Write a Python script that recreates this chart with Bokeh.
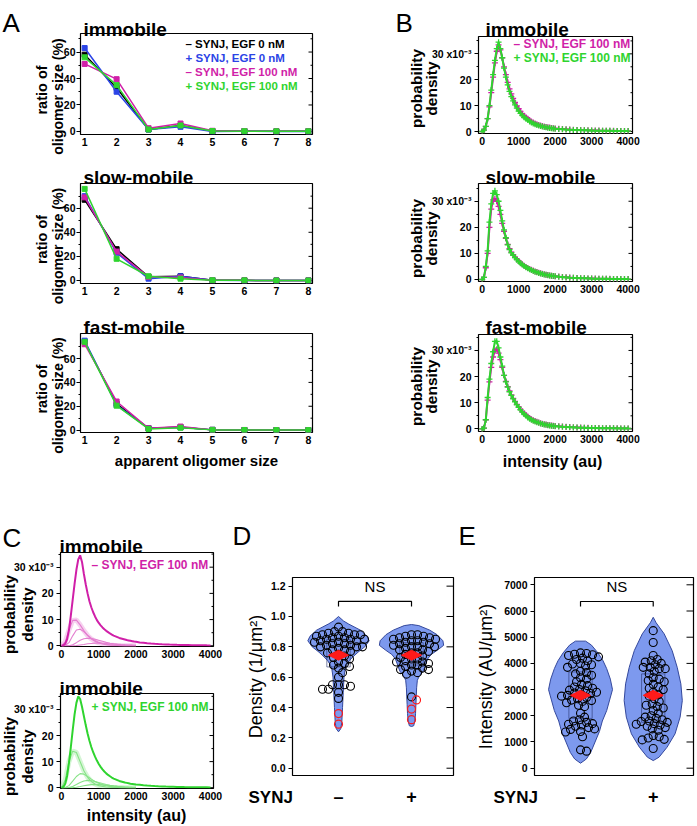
import numpy as np
from bokeh.plotting import figure
from bokeh.models import Range1d, FixedTicker, Label, PrintfTickFormatter, GridBox
from bokeh.layouts import row, column
from bokeh.embed import file_html
from bokeh.resources import INLINE

FONT = "Liberation Sans"
BLACK = "#000000"
BLUE = "#2b44e6"
MAG = "#d01fa8"
GRN = "#2fd42f"
MAG_L = "#e47fd0"
GRN_L = "#86e386"
V_FILL = "#7d99ee"
V_LINE = "#34489c"
RED = "#ff1a1a"

# ---------------- Panel A data (ratio of oligomer size, %) ----------------
oligomer_size = [1, 2, 3, 4, 5, 6, 7, 8]
imm_m0 = [58, 33, 1.5, 4.5, 0.3, 0.3, 0.1, 0.1]
imm_p0 = [63, 30, 1.5, 3.5, 0.0, 0.1, 0.0, 0.0]
imm_m100 = [51, 39.5, 2.5, 6.0, 0.5, 0.3, 0.1, 0.1]
imm_p100 = [56, 35, 1.5, 4.5, 0.3, 0.2, 0.1, 0.1]
slow_m0 = [67, 26, 3.0, 3.5, 0.2, 0.1, 0.0, 0.0]
slow_p0 = [70, 23, 1.5, 3.5, 0.2, 0.0, 0.0, 0.0]
slow_m100 = [69, 24, 3.0, 2.5, 0.2, 0.1, 0.0, 0.0]
slow_p100 = [76, 18, 3.5, 1.5, 0.2, 0.1, 0.0, 0.0]
fast_m0 = [74, 22, 1.5, 2.5, 0.2, 0.1, 0.0, 0.0]
fast_p0 = [75, 21, 1.5, 2.5, 0.2, 0.0, 0.0, 0.0]
fast_m100 = [72, 24, 1.5, 3.0, 0.2, 0.1, 0.0, 0.0]
fast_p100 = [74, 20.5, 1.0, 2.0, 0.2, 0.1, 0.0, 0.0]
legend_A = ["\u2013 SYNJ, EGF 0 nM", "+ SYNJ, EGF 0 nM", "\u2013 SYNJ, EGF 100 nM", "+ SYNJ, EGF 100 nM"]

# ---------------- Panel B / C data (probability density, x10^-3) ----------------
intensity = list(range(0, 2001, 50)) + list(range(2100, 4001, 100))
b_imm_mag = [0, 0.5, 2, 5, 9.5, 15, 21, 26.5, 31, 33.5, 31.5, 28.5, 25, 22, 19, 16.5, 14.5, 12.8, 11.2, 9.9,
             8.8, 7.8, 6.9, 6.1, 5.5, 4.9, 4.4, 3.9, 3.5, 3.1, 2.8, 2.5, 2.3, 2.1, 1.9, 1.7, 1.6, 1.5, 1.4, 1.3, 1.2,
             1.05, 0.95, 0.85, 0.75, 0.68, 0.62, 0.56, 0.5, 0.45, 0.41, 0.38, 0.35, 0.32, 0.3, 0.28, 0.26, 0.24, 0.22, 0.21, 0.2]
b_imm_grn = [0, 0.5, 2, 5, 10, 16, 22, 27.5, 32, 34.5, 32, 28.5, 24.5, 21, 18, 15.5, 13.5, 11.8, 10.3, 9.0,
             7.9, 7.0, 6.2, 5.5, 4.9, 4.4, 3.9, 3.5, 3.1, 2.8, 2.5, 2.3, 2.1, 1.9, 1.7, 1.6, 1.45, 1.35, 1.25, 1.15, 1.05,
             0.95, 0.85, 0.75, 0.68, 0.6, 0.55, 0.5, 0.45, 0.4, 0.37, 0.34, 0.31, 0.29, 0.27, 0.25, 0.23, 0.21, 0.2, 0.19, 0.18]
b_slow_mag = [0, 0.8, 4.5, 10, 20, 27, 30.5, 31, 30, 28, 25, 21.5, 18.5, 15.8, 13.5, 11.8, 10.5, 9.5, 8.6, 7.8,
              7.1, 6.4, 5.8, 5.3, 4.8, 4.4, 4.0, 3.7, 3.4, 3.1, 2.9, 2.6, 2.4, 2.2, 2.0, 1.85, 1.7, 1.55, 1.45, 1.35, 1.25,
              1.1, 0.95, 0.85, 0.75, 0.66, 0.58, 0.52, 0.47, 0.42, 0.38, 0.35, 0.32, 0.29, 0.26, 0.24, 0.22, 0.2, 0.19, 0.18, 0.17]
b_slow_grn = [0, 0.8, 5, 11, 22, 29, 33, 34, 32.5, 30, 26.5, 22.5, 19, 16, 13.3, 11.5, 10.2, 9.3, 8.4, 7.6,
              6.9, 6.2, 5.7, 5.2, 4.7, 4.3, 3.9, 3.6, 3.3, 3.0, 2.8, 2.5, 2.3, 2.1, 1.9, 1.8, 1.65, 1.5, 1.4, 1.3, 1.2,
              1.05, 0.9, 0.8, 0.7, 0.62, 0.55, 0.5, 0.45, 0.4, 0.36, 0.33, 0.3, 0.27, 0.25, 0.23, 0.21, 0.19, 0.18, 0.17, 0.16]
b_fast_mag = [0, 0.3, 3.5, 11, 18, 23.5, 27.5, 30, 30.5, 29, 26.5, 23.5, 20.5, 18.2, 16.2, 14.5, 13, 11.7, 10.5, 9.4,
              8.4, 7.5, 6.7, 6.0, 5.3, 4.7, 4.2, 3.7, 3.3, 3.0, 2.7, 2.4, 2.2, 2.0, 1.8, 1.65, 1.5, 1.4, 1.3, 1.2, 1.1,
              0.98, 0.87, 0.78, 0.7, 0.62, 0.55, 0.5, 0.45, 0.41, 0.37, 0.34, 0.31, 0.28, 0.26, 0.24, 0.22, 0.2, 0.19, 0.18, 0.17]
b_fast_grn = [0, 0.3, 3.5, 12, 19, 25, 29.5, 33.5, 33.5, 31, 27.5, 24, 20.5, 18, 16, 14.2, 12.8, 11.5, 10.3, 9.2,
              8.2, 7.3, 6.4, 5.7, 5.0, 4.4, 3.9, 3.5, 3.1, 2.8, 2.5, 2.3, 2.1, 1.9, 1.7, 1.55, 1.4, 1.3, 1.2, 1.1, 1.0,
              0.9, 0.8, 0.72, 0.64, 0.57, 0.51, 0.46, 0.42, 0.38, 0.35, 0.32, 0.29, 0.27, 0.25, 0.23, 0.21, 0.19, 0.18, 0.17, 0.16]
legend_B = ["\u2013 SYNJ, EGF 100 nM", "+ SYNJ, EGF 100 nM"]

c_mag_total = [0, 0.2, 0.8, 2.5, 6, 11.5, 17.5, 23.5, 29, 33, 34.5, 32, 27.5, 23.5, 20, 17, 14.7, 12.8, 11.2, 9.8,
               8.7, 7.8, 7.0, 6.3, 5.7, 5.2, 4.7, 4.3, 3.9, 3.6, 3.3, 3.0, 2.8, 2.6, 2.4, 2.2, 2.05, 1.9, 1.75, 1.6, 1.5,
               1.3, 1.15, 1.0, 0.88, 0.77, 0.68, 0.6, 0.53, 0.47, 0.42, 0.37, 0.33, 0.3, 0.27, 0.24, 0.22, 0.2, 0.18, 0.16, 0.15]
c_grn_total = [0, 0.3, 1.5, 4.5, 9.5, 15.5, 22, 28, 32.5, 35, 34, 31, 27.5, 24, 20.8, 18, 15.6, 13.6, 11.9, 10.4,
               9.1, 8.0, 7.0, 6.2, 5.5, 4.9, 4.4, 3.9, 3.5, 3.2, 2.9, 2.6, 2.4, 2.2, 2.0, 1.85, 1.7, 1.55, 1.45, 1.35, 1.25,
               1.1, 0.95, 0.83, 0.72, 0.63, 0.55, 0.49, 0.43, 0.38, 0.34, 0.3, 0.27, 0.24, 0.22, 0.2, 0.18, 0.16, 0.15, 0.14, 0.13]
comp_x = list(range(0, 2001, 100))
c_mag_comp1 = [0, 1.5, 6, 9.7, 9.8, 8.0, 5.8, 3.9, 2.6, 1.7, 1.1, 0.7, 0.45, 0.3, 0.2, 0.12, 0.08, 0.05, 0.03, 0.02, 0.01]
c_mag_comp2 = [0, 0.1, 1.2, 3.8, 6.0, 6.3, 5.4, 4.1, 2.9, 2.0, 1.3, 0.85, 0.55, 0.35, 0.22, 0.14, 0.09, 0.06, 0.04, 0.02, 0.01]
c_mag_comp3 = [0, 0, 0.05, 0.4, 1.2, 2.1, 2.7, 2.9, 2.8, 2.5, 2.1, 1.7, 1.3, 1.0, 0.75, 0.55, 0.4, 0.3, 0.2, 0.15, 0.1]
c_mag_comp4 = [0, 0, 0, 0.02, 0.1, 0.3, 0.5, 0.75, 0.9, 1.0, 1.0, 0.95, 0.85, 0.75, 0.65, 0.55, 0.45, 0.37, 0.3, 0.24, 0.19]
c_grn_comp1 = [0, 3, 10, 14, 13.5, 10, 6.5, 4, 2.4, 1.4, 0.8, 0.5, 0.3, 0.18, 0.1, 0.06, 0.04, 0.02, 0.01, 0.01, 0]
c_grn_comp2 = [0, 0.1, 0.8, 2.5, 4.3, 5.4, 5.2, 4.3, 3.3, 2.4, 1.7, 1.1, 0.75, 0.5, 0.32, 0.2, 0.13, 0.08, 0.05, 0.03, 0.02]
c_grn_comp3 = [0, 0, 0.1, 0.5, 1.2, 2.0, 2.6, 2.8, 2.7, 2.4, 2.0, 1.6, 1.25, 0.95, 0.7, 0.5, 0.35, 0.25, 0.17, 0.12, 0.08]
c_grn_comp4 = [0, 0, 0, 0.05, 0.2, 0.45, 0.75, 1.0, 1.2, 1.25, 1.2, 1.1, 0.95, 0.8, 0.65, 0.52, 0.4, 0.3, 0.23, 0.17, 0.12]

# ---------------- Panel D data (density, 1/um^2) ----------------
d_minus = [0.93, 0.90, 0.90, 0.89, 0.89, 0.88, 0.88, 0.88, 0.87, 0.87, 0.86, 0.86, 0.85, 0.85, 0.85, 0.84, 0.84,
           0.83, 0.83, 0.82, 0.82, 0.81, 0.81, 0.80, 0.80, 0.80, 0.79, 0.78, 0.78, 0.77, 0.76, 0.75, 0.74, 0.73,
           0.72, 0.70, 0.69, 0.68, 0.67, 0.66, 0.63, 0.60, 0.55, 0.55, 0.55, 0.54, 0.52, 0.52, 0.50, 0.46]
d_minus_out = [0.36, 0.29]
d_plus = [0.88, 0.88, 0.87, 0.87, 0.86, 0.86, 0.85, 0.85, 0.84, 0.84, 0.83, 0.83, 0.82, 0.82, 0.81, 0.80, 0.80,
          0.80, 0.79, 0.78, 0.78, 0.77, 0.76, 0.76, 0.75, 0.74, 0.73, 0.72, 0.72, 0.71, 0.70, 0.70, 0.69, 0.68,
          0.68, 0.67, 0.66, 0.65, 0.65, 0.64, 0.63, 0.62, 0.47]
d_plus_out = [0.45, 0.39, 0.32]
d_means = [0.745, 0.745]
d_vio_minus_y = [0.24, 0.26, 0.30, 0.35, 0.40, 0.45, 0.50, 0.55, 0.60, 0.65, 0.68, 0.71, 0.74, 0.77, 0.80, 0.84, 0.87, 0.91, 0.95, 0.97, 1.00]
d_vio_minus_w = [0.0, 0.03, 0.045, 0.05, 0.055, 0.06, 0.065, 0.07, 0.075, 0.09, 0.11, 0.15, 0.21, 0.28, 0.36, 0.42, 0.39, 0.30, 0.14, 0.07, 0.0]
d_vio_plus_y = [0.275, 0.28, 0.31, 0.36, 0.42, 0.47, 0.53, 0.58, 0.61, 0.64, 0.68, 0.72, 0.75, 0.78, 0.81, 0.84, 0.88, 0.91, 0.94, 0.947]
d_vio_plus_w = [0.0, 0.03, 0.045, 0.055, 0.06, 0.065, 0.07, 0.08, 0.11, 0.16, 0.19, 0.22, 0.27, 0.36, 0.44, 0.43, 0.35, 0.25, 0.10, 0.0]

# ---------------- Panel E data (intensity, AU/um^2) ----------------
e_minus = [4400, 4380, 4350, 4330, 4300, 4250, 4200, 4150, 4100, 4000, 3980, 3950, 3900, 3850, 3700, 3650, 3600,
           3550, 3450, 3400, 3300, 3200, 3150, 3100, 3050, 3000, 2980, 2950, 2900, 2870, 2850, 2800, 2780, 2750,
           2700, 2650, 2600, 2580, 2550, 2500, 2400, 2350, 2100, 1950, 1850, 1800, 1750, 1700, 1680, 1650, 1600,
           1550, 1500, 1480, 1400, 1380, 1200, 700, 650]
e_plus = [5250, 4800, 4300, 4150, 4100, 4050, 4000, 3950, 3850, 3850, 3800, 3800, 3700, 3600, 3450, 3400, 3350,
          3300, 3200, 3100, 3050, 3000, 2900, 2800, 2750, 2650, 2550, 2450, 2400, 2350, 2300, 2200, 2100, 2000,
          1950, 1900, 1850, 1800, 1780, 1750, 1700, 1680, 1650, 1600, 1550, 1500, 1450, 1250, 1200, 1150, 1100,
          1080, 750]
e_means = [2780, 2780]
e_vio_minus_y = [190, 350, 600, 1000, 1400, 1800, 2200, 2600, 3000, 3400, 3800, 4100, 4400, 4700, 4850]
e_vio_minus_w = [0.0, 0.08, 0.14, 0.20, 0.26, 0.30, 0.36, 0.40, 0.44, 0.41, 0.36, 0.31, 0.24, 0.15, 0.07]
e_vio_plus_y = [290, 420, 800, 1310, 1950, 2580, 3220, 3850, 4490, 5130, 5550, 5760]
e_vio_plus_w = [0.0, 0.08, 0.19, 0.30, 0.37, 0.40, 0.38, 0.33, 0.26, 0.15, 0.04, 0.0]
group_labels = {1: "\u2013", 2: "+"}


# ---------------- helpers ----------------
def make_fig(w, h, left, right, top, frame_h, xr, yr):
    bottom = h - top - frame_h
    p = figure(width=w, height=h, x_range=Range1d(*xr), y_range=Range1d(*yr),
               output_backend="svg", toolbar_location=None,
               min_border_left=left, min_border_right=right,
               min_border_top=top, min_border_bottom=bottom)
    p.xgrid.visible = False
    p.ygrid.visible = False
    p.outline_line_color = "black"
    p.outline_line_width = 1.2
    p.outline_line_alpha = 1.0
    p.border_fill_color = "white"
    p.background_fill_color = "white"
    return p


def style_axis(ax, ticks, minor=None, size="10.5px", tick_out=4, minor_out=2, standoff=3, bold=True):
    ax.ticker = FixedTicker(ticks=ticks, minor_ticks=minor or [])
    ax.axis_line_color = None
    ax.major_tick_in = 0
    ax.major_tick_out = tick_out
    ax.minor_tick_in = 0
    ax.minor_tick_out = minor_out
    ax.major_tick_line_color = "black"
    ax.minor_tick_line_color = "black"
    ax.major_label_text_font = FONT
    ax.major_label_text_font_style = "bold" if bold else "normal"
    ax.major_label_text_font_size = size
    ax.major_label_text_color = "black"
    ax.major_label_standoff = standoff


def right_ticks(p, xr, frame_w, ticks, minor=None, tlen=4, mlen=2):
    # inward-pointing mirror ticks on the right edge of the frame
    kx = frame_w / (xr[1] - xr[0])
    for tv, ln in ((ticks, tlen), (minor or [], mlen)):
        if len(tv):
            p.segment(x0=[xr[1]] * len(tv), y0=tv, x1=[xr[1] - ln / kx] * len(tv), y1=tv,
                      line_color="black", line_width=1)


def swarm(vals, kx, ky, d=5.5):
    vals = np.asarray(vals, float)
    order = np.argsort(-vals, kind="stable")
    placed = []
    offs = np.zeros(len(vals))
    cands = [0.0]
    for s in np.arange(1.0, 60.0, 1.0):
        cands += [float(s), float(-s)]
    for i in order:
        ypx = vals[i] * ky
        chosen = 0.0
        for c in cands:
            if all((c - px) ** 2 + (ypx - py) ** 2 >= d * d for px, py in placed):
                chosen = c
                break
        placed.append((chosen, ypx))
        offs[i] = chosen / kx
    return offs


# ---------------- overlay for texts outside the plot frames ----------------
W, H = 697, 826
ov = figure(width=W, height=H, x_range=Range1d(0, W), y_range=Range1d(H, 0),
            output_backend="svg", toolbar_location=None,
            x_axis_location=None, y_axis_location=None,
            min_border_left=0, min_border_right=0, min_border_top=0, min_border_bottom=0)
ov.grid.visible = False
ov.outline_line_color = None
ov.background_fill_alpha = 0
ov.border_fill_alpha = 0


def otxt(x, y, s, size, color="black", bold=True, align="left", baseline="middle", angle=0.0):
    ov.add_layout(Label(x=x, y=y, text=s, text_font=FONT, text_font_size=f"{size}px",
                        text_font_style="bold" if bold else "normal",
                        text_color=color, text_align=align, text_baseline=baseline, angle=angle))


# ---------------- Panel A ----------------
A_W, A_L, A_R = 345, 80, 33
A_COLORS = [BLACK, BLUE, MAG, GRN]
a_specs = [
    (158, 33, 101, (-2.3, 74.0), [imm_m0, imm_p0, imm_m100, imm_p100]),
    (150, 25, 100, (-2.5, 80.5), [slow_m0, slow_p0, slow_m100, slow_p100]),
    (170, 25, 99, (-2.0, 81.0), [fast_m0, fast_p0, fast_m100, fast_p100]),
]
A_figs = []
for (h, top, fh, yr, series) in a_specs:
    xr = (0.87, 8.13)
    p = make_fig(A_W, h, A_L, A_R, top, fh, xr, yr)
    style_axis(p.yaxis[0], [0, 20, 40, 60], [10, 30, 50, 70], standoff=1)
    style_axis(p.xaxis[0], oligomer_size, tick_out=0, minor_out=0, standoff=3)
    right_ticks(p, xr, A_W - A_L - A_R, [0, 20, 40, 60], [10, 30, 50, 70])
    for ys, c in zip(series, A_COLORS):
        p.line(oligomer_size, ys, line_color=c, line_width=1.5)
        p.scatter(oligomer_size, ys, marker="square", size=5, color=c)
    A_figs.append(p)

otxt(2, 22, "A", 26, bold=False, baseline="alphabetic")
for title, yb, cr, co in (("immobile", 29, 89.5, 96), ("slow-mobile", 177, 239, 245.5),
                          ("fast-mobile", 327, 388.5, 395)):
    otxt(83, yb, title, 19, baseline="alphabetic")
    otxt(41, cr, "ratio of", 14.5, align="center", angle=np.pi / 2)
    otxt(57, co, "oligomer size (%)", 14.2, align="center", angle=np.pi / 2)
for i, (s, c) in enumerate(zip(legend_A, A_COLORS)):
    otxt(185, 43.3 + 14.2 * i, s, 11.5, color=c)
otxt(196, 460, "apparent oligomer size", 15, align="center", baseline="alphabetic")

# ---------------- Panel B ----------------
B_W, B_L, B_R = 352, 133, 65
b_specs = [
    (158, 36, 97, (-0.77, 36.7), b_imm_mag, b_imm_grn),
    (150, 25, 98, (-0.77, 36.8), b_slow_mag, b_slow_grn),
    (170, 26, 97, (-1.0, 36.1), b_fast_mag, b_fast_grn),
]
B_figs = []
for (h, top, fh, yr, ym, yg) in b_specs:
    xr = (-100, 4120)
    p = make_fig(B_W, h, B_L, B_R, top, fh, xr, yr)
    style_axis(p.yaxis[0], [0, 10, 20, 30], [5, 15, 25, 35])
    p.yaxis[0].major_label_overrides = {30: "30 x10\u207b\u00b3"}
    style_axis(p.xaxis[0], [0, 1000, 2000, 3000, 4000], tick_out=0, minor_out=0, standoff=3)
    right_ticks(p, xr, B_W - B_L - B_R, [0, 10, 20, 30], [5, 15, 25, 35])
    p.line(intensity, ym, line_color=MAG, line_width=2)
    p.scatter(intensity, ym, marker="cross", size=6, line_color=MAG, line_width=1.3)
    p.line(intensity, yg, line_color=GRN, line_width=2)
    p.scatter(intensity, yg, marker="cross", size=6, line_color=GRN, line_width=1.3)
    B_figs.append(p)

otxt(395, 22, "B", 26, bold=False, baseline="alphabetic")
for title, yb, cy in (("immobile", 28.5, 88), ("slow-mobile", 177, 238), ("fast-mobile", 327, 386)):
    otxt(485, yb, title, 19, baseline="alphabetic")
    otxt(416, cy, "probability", 15.5, align="center", angle=np.pi / 2)
    otxt(431, cy, "density", 15.5, align="center", angle=np.pi / 2)
otxt(513, 43.3, legend_B[0], 12, color=MAG)
otxt(513, 57.7, legend_B[1], 12, color=GRN)
otxt(552, 460.5, "intensity (au)", 16, align="center", baseline="alphabetic")

# ---------------- Panel C ----------------
C_W, C_L, C_R = 230, 60, 17
c_specs = [
    (186, 74, 94, (-0.27, 35.6), c_mag_total, [c_mag_comp1, c_mag_comp2, c_mag_comp3, c_mag_comp4], MAG, MAG_L),
    (162, 29, 95, (-0.3, 36.1), c_grn_total, [c_grn_comp1, c_grn_comp2, c_grn_comp3, c_grn_comp4], GRN, GRN_L),
]
C_figs = []
for (h, top, fh, yr, tot, comps, col, col_l) in c_specs:
    xr = (-27, 4080)
    p = make_fig(C_W, h, C_L, C_R, top, fh, xr, yr)
    style_axis(p.yaxis[0], [0, 10, 20, 30], [5, 15, 25, 35])
    p.yaxis[0].major_label_overrides = {30: "30 x10\u207b\u00b3"}
    style_axis(p.xaxis[0], [0, 1000, 2000, 3000, 4000], tick_out=0, minor_out=0, standoff=3)
    right_ticks(p, xr, C_W - C_L - C_R, [0, 10, 20, 30], [5, 15, 25, 35])
    p.line(comp_x, comps[0], line_color=col_l, line_width=5, line_alpha=0.35)
    for cc in comps:
        p.line(comp_x, cc, line_color=col_l, line_width=1.1)
    p.line(intensity, tot, line_color=col, line_width=2)
    C_figs.append(p)

otxt(2, 537, "C", 26, bold=False, baseline="alphabetic")
for yb, cy in ((546, 614), (688, 756)):
    otxt(59, yb, "immobile", 19, baseline="alphabetic")
    otxt(9, cy, "probability", 15.5, align="center", angle=np.pi / 2)
    otxt(27, cy, "density", 15.5, align="center", angle=np.pi / 2)
otxt(91, 564, legend_B[0], 12, color=MAG)
otxt(91, 706, legend_B[1], 12, color=GRN)
otxt(136, 815, "intensity (au)", 16, align="center", baseline="alphabetic")


# ---------------- Panels D and E ----------------
def violin_fig(w, left, right, xr, yr, ticks, fmt, groups, outs, means, vio, ns_y, ns_tick):
    h, top, fh = 348, 99, 198
    p = make_fig(w, h, left, right, top, fh, xr, yr)
    fw = w - left - right
    kx = fw / (xr[1] - xr[0])
    ky = fh / (yr[1] - yr[0])
    style_axis(p.yaxis[0], ticks, None, size="10.5px", tick_out=4, minor_out=0, standoff=3)
    if fmt:
        p.yaxis[0].formatter = PrintfTickFormatter(format=fmt)
    style_axis(p.xaxis[0], [1, 2], None, size="18px", tick_out=0, minor_out=0, standoff=11)
    p.xaxis[0].major_label_overrides = group_labels
    right_ticks(p, xr, fw, ticks, None, tlen=7)
    for gi, (vals, ov_, m, (vy, vw)) in enumerate(zip(groups, outs, means, vio)):
        c = gi + 1
        xs = [c - a for a in vw] + [c + a for a in reversed(vw)]
        ys = list(vy) + list(reversed(vy))
        p.patch(xs, ys, fill_color=V_FILL, line_color=V_LINE, line_width=1)
        allv = list(vals) + list(ov_)
        q1, q3 = np.percentile(allv, [25, 75])
        p.quad(left=c - 0.16, right=c + 0.16, bottom=q1, top=q3, fill_alpha=0,
               line_color="#27336e", line_alpha=0.6, line_width=1)
        offs = swarm(allv, kx, ky)
        n = len(vals)
        p.scatter(c + offs[:n], vals, marker="circle", size=8, fill_alpha=0,
                  line_color="black", line_width=1.1)
        if len(ov_):
            p.scatter(c + offs[n:], ov_, marker="circle", size=8, fill_alpha=0,
                      line_color=RED, line_width=1.2)
        dx, dy = 10 / kx, 5 / ky
        p.patch([c - dx, c, c + dx, c], [m, m + dy, m, m - dy], fill_color=RED, line_color=RED)
    p.line([1, 1, 2, 2], [ns_tick, ns_y, ns_y, ns_tick], line_color="black", line_width=1.2)
    p.add_layout(Label(x=1.5, y=ns_y + 6 / ky, text="NS", text_font=FONT, text_font_size="15px",
                       text_align="center", text_baseline="bottom", text_color="black"))
    return p


pD = violin_fig(230, 62, 7, (0.37, 2.575), (-0.048, 1.257), [0, 0.2, 0.4, 0.6, 0.8, 1.0, 1.2], "%.1f",
                [d_minus, d_plus], [d_minus_out, d_plus_out], d_means,
                [(d_vio_minus_y, d_vio_minus_w), (d_vio_plus_y, d_vio_plus_w)], 1.099, 1.066)
pE = violin_fig(237, 74, 4, (0.367, 2.554), (-279, 7279), [0, 1000, 2000, 3000, 4000, 5000, 6000, 7000], None,
                [e_minus, e_plus], [[], []], e_means,
                [(e_vio_minus_y, e_vio_minus_w), (e_vio_plus_y, e_vio_plus_w)], 6363, 6172)

otxt(232, 535, "D", 26, bold=False, baseline="alphabetic")
otxt(458, 535, "E", 26, bold=False, baseline="alphabetic")
otxt(255, 676, "Density (1/\u03bcm\u00b2)", 18, bold=False, align="center", angle=np.pi / 2)
otxt(485, 676, "Intensity (AU/\u03bcm\u00b2)", 18, bold=False, align="center", angle=np.pi / 2)
otxt(248, 797, "SYNJ", 17)
otxt(493, 797, "SYNJ", 17)

top_row = row(column(*A_figs), column(*B_figs))
bottom_row = row(column(*C_figs), pD, pE)
main = column(top_row, bottom_row)
page = GridBox(children=[(main, 0, 0), (ov, 0, 0)])

open("out.html", "w").write(file_html(page, INLINE))
